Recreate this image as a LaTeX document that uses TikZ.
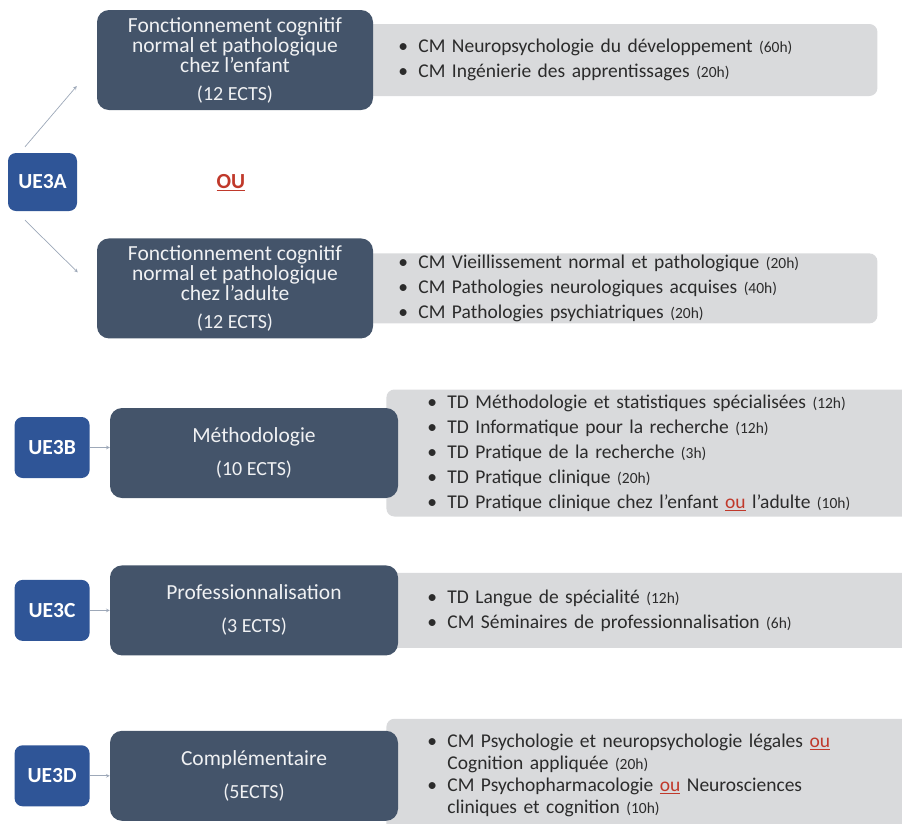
\documentclass[tikz,border=0pt]{standalone}
\usepackage{fontspec}
\setmainfont{Carlito}
\usepackage{xcolor}
\usepackage{tikz}
\usetikzlibrary{arrows, positioning, backgrounds}

\definecolor{slate}{HTML}{44546A}
\definecolor{ueblue}{HTML}{2F5597}
\definecolor{panel}{HTML}{D9DADC}
\definecolor{linkgray}{HTML}{9DA8B8}
\definecolor{oured}{HTML}{C0392B}
\definecolor{ink}{HTML}{2B2B2B}

\newcommand{\titlefont}{\fontsize{21.5}{20}\selectfont\lineskiplimit=-20pt\relax}
\newcommand{\ectsfont}{\fontsize{20}{20}\selectfont}
\newcommand{\ouword}{\textcolor{oured}{\underline{ou}}}
\newcommand{\hrs}[1]{{\fontsize{15.5}{25}\selectfont(#1)}}
\newcommand{\itembul}{\makebox[20pt][l]{\textbullet}}
\newcommand{\itemcont}{\hspace*{20pt}}

\begin{document}
\begin{tikzpicture}[
    x=1pt, y=-1pt,
    node distance=20pt,
    title/.style={rectangle, rounded corners=12pt, fill=slate, text=white!92!slate, minimum width=288pt, minimum height=90pt, inner sep=0pt, align=center, font=\titlefont},
    ue/.style={rectangle, rounded corners=8pt, fill=ueblue, text=white, minimum width=75pt, minimum height=61pt, inner sep=0pt, font=\fontsize{21.5}{24}\selectfont\bfseries},
    panelbox/.style={rectangle, rounded corners=8pt, fill=panel, text=ink, text width=442pt, inner xsep=37pt, inner ysep=0pt, align=left, font=\fontsize{19.5}{25}\selectfont},
    lowpanel/.style={panelbox, text width=470pt, inner xsep=41pt},
    link/.style={-stealth, line width=0.7pt, linkgray}
]
\useasboundingbox (0,0) rectangle (902,823);

% UE3A : enfant ou adulte
\node[title, minimum width=276pt, minimum height=100pt] (enfant) at (235,60) {Fonctionnement cognitif\\normal et pathologique\\chez l'enfant\\[8pt]\ectsfont (12 ECTS)};
\node[title, minimum width=276pt, minimum height=100pt, below=128pt of enfant] (adulte) {Fonctionnement cognitif\\normal et pathologique\\chez l'adulte\\[8pt]\ectsfont (12 ECTS)};
\node[ue, minimum width=69pt, minimum height=58pt] (ue3a) at (42.5,182) {UE3A};
\node[text=oured, font=\fontsize{21.5}{24}\selectfont\bfseries] (ou) at (231,183) {\underline{OU}};

\draw[link] ([xshift=-17.5pt,yshift=6pt]ue3a.north) -- ([xshift=-20pt,yshift=-26pt]enfant.west);
\draw[link] ([xshift=-17.5pt,yshift=-9pt]ue3a.south) -- ([xshift=-19pt,yshift=16pt]adulte.west);

% UE3B, UE3C, UE3D
\node[title] (meth) at (254,453) {M\'ethodologie\\[13pt]\ectsfont (10 ECTS)};
\node[title, below=67pt of meth] (pro) {Professionnalisation\\[13pt]\ectsfont (3 ECTS)};
\node[title, below=75pt of pro] (compl) {Compl\'ementaire\\[13pt]\ectsfont (5ECTS)};

\node[ue, left=of meth, yshift=5.5pt] (ue3b) {UE3B};
\node[ue, left=of pro] (ue3c) {UE3C};
\node[ue, left=of compl] (ue3d) {UE3D};

\draw[link] (ue3b.east) -- (ue3b.east -| meth.west);
\draw[link] (ue3c.east) -- (ue3c.east -| pro.west);
\draw[link] (ue3d.east) -- (ue3d.east -| compl.west);

% listes des enseignements
\begin{scope}[on background layer]
\node[panelbox, minimum height=72pt, right=-12pt of enfant] (penfant) {\itembul CM Neuropsychologie du d\'eveloppement \hrs{60h}\\
\itembul CM Ing\'enierie des apprentissages \hrs{20h}};
\node[panelbox, minimum height=70pt, right=-12pt of adulte] (padulte) {\itembul CM Vieillissement normal et pathologique \hrs{20h}\\
\itembul CM Pathologies neurologiques acquises \hrs{40h}\\
\itembul CM Pathologies psychiatriques \hrs{20h}};
\node[lowpanel, minimum height=127pt, right=-12pt of meth] (pmeth) {\itembul TD M\'ethodologie et statistiques sp\'ecialis\'ees \hrs{12h}\\
\itembul TD Informatique pour la recherche \hrs{12h}\\
\itembul TD Pratique de la recherche \hrs{3h}\\
\itembul TD Pratique clinique \hrs{20h}\\
\itembul TD Pratique clinique chez l'enfant \ouword{} l'adulte \hrs{10h}};
\node[lowpanel, minimum height=75pt, right=-12pt of pro] (ppro) {\itembul TD Langue de sp\'ecialit\'e \hrs{12h}\\
\itembul CM S\'eminaires de professionnalisation \hrs{6h}};
\node[lowpanel, minimum height=114pt, font=\fontsize{19.5}{22}\selectfont, right=-12pt of compl] (pcompl) {\itembul CM Psychologie et neuropsychologie l\'egales \ouword\\
\itemcont Cognition appliqu\'ee \hrs{20h}\\
\itembul CM Psychopharmacologie \ouword{} Neurosciences\\
\itemcont cliniques et cognition \hrs{10h}};
\end{scope}

\end{tikzpicture}
\end{document}
